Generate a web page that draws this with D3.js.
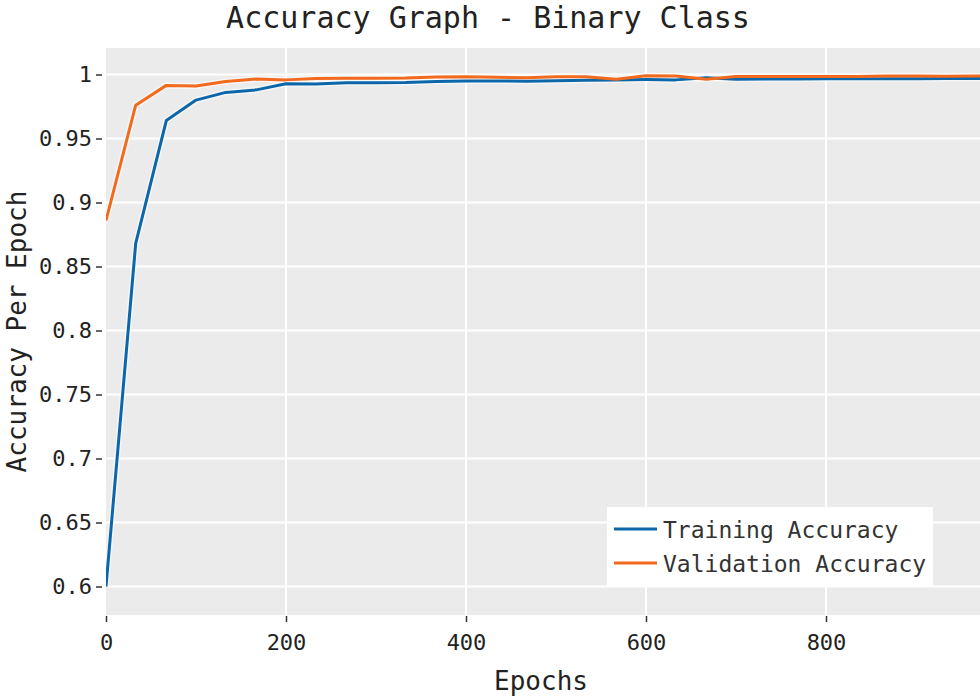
<!DOCTYPE html>
<html lang="en">
    <head>
        <meta charset="utf-8">
        <title>Accuracy Graph - Binary Class</title>
        <script type="text/javascript" src="https://cdn.jsdelivr.net/npm/d3@7/dist/d3.min.js"></script>
        <style type="text/css">
          body { margin: 0; background: #fff; }
          text { font-family: "DejaVu Sans Mono", monospace; fill: #222; }
	      </style>
    </head>
    <body>
        <script type="text/javascript">

          var epochs = [0, 33, 67, 100, 133, 167, 200, 233, 267, 300, 333, 367, 400, 433, 467, 500,
                        533, 567, 600, 633, 667, 700, 733, 767, 800, 833, 867, 900, 933, 967, 1000];

          var trainAcc = [0.600, 0.868, 0.964, 0.980, 0.986, 0.988, 0.9928, 0.9926, 0.9935, 0.9936, 0.9937,
                          0.9945, 0.9950, 0.9950, 0.9948, 0.9952, 0.9955, 0.9958, 0.9960, 0.9958, 0.9975,
                          0.9962, 0.9965, 0.9965, 0.9966, 0.9966, 0.9967, 0.9967, 0.9968, 0.9968, 0.9969];

          var valAcc = [0.886, 0.976, 0.9915, 0.991, 0.9945, 0.9965, 0.9958, 0.9968, 0.9970, 0.9970, 0.9972,
                        0.9980, 0.9982, 0.9978, 0.9975, 0.9982, 0.9983, 0.9962, 0.9990, 0.9988, 0.9962,
                        0.9985, 0.9985, 0.9984, 0.9985, 0.9985, 0.9988, 0.9988, 0.9987, 0.9988, 0.9990];

          var xTicks = [0, 200, 400, 600, 800];
          var yTicks = [0.6, 0.65, 0.7, 0.75, 0.8, 0.85, 0.9, 0.95, 1];
          var seriesNames = ["Training Accuracy", "Validation Accuracy"];
          var colors = ["#0b67a9", "#f26a1e"];

          var w = 980;
          var h = 700;
          var plot = {left: 106, right: 1006, top: 48, bottom: 615};

          var svg = d3.select("body")
                      .append("svg")
                      .attr("width", w)
                      .attr("height", h);

          var xScale = d3.scaleLinear()
                         .domain([0, 1000])
                         .range([plot.left, plot.right]);

          var yScale = d3.scaleLinear()
                         .domain([0.6 - (615 - 586.5) / 1280, 1 + (74.5 - 48) / 1280])
                         .range([plot.bottom, plot.top]);

          // grey panel
          svg.append("rect")
             .attr("x", plot.left)
             .attr("y", plot.top)
             .attr("width", plot.right - plot.left)
             .attr("height", plot.bottom - plot.top)
             .style("fill", "#ebebeb");

          // grid
          svg.append("g")
             .selectAll("line")
             .data(yTicks)
             .enter()
             .append("line")
             .attr("x1", plot.left)
             .attr("x2", plot.right)
             .attr("y1", function(d){ return yScale(d); })
             .attr("y2", function(d){ return yScale(d); })
             .style("stroke", "#fff")
             .style("stroke-width", 2);

          svg.append("g")
             .selectAll("line")
             .data(xTicks.slice(1))
             .enter()
             .append("line")
             .attr("x1", function(d){ return xScale(d); })
             .attr("x2", function(d){ return xScale(d); })
             .attr("y1", plot.top)
             .attr("y2", plot.bottom)
             .style("stroke", "#fff")
             .style("stroke-width", 2);

          // axes
          var xAxis = d3.axisBottom(xScale)
                        .tickValues(xTicks)
                        .tickSize(6)
                        .tickPadding(12)
                        .tickSizeOuter(0);

          var yAxis = d3.axisLeft(yScale)
                        .tickValues(yTicks)
                        .tickFormat(function(d){ return String(d); })
                        .tickSize(6)
                        .tickPadding(4)
                        .tickSizeOuter(0);

          var gx = svg.append("g")
                      .attr("transform", "translate(0," + (plot.bottom + 1) + ")")
                      .call(xAxis);

          var gy = svg.append("g")
                      .attr("transform", "translate(" + (plot.left - 4) + ",0)")
                      .call(yAxis);

          [gx, gy].forEach(function(g){
            g.select(".domain").remove();
            g.selectAll(".tick line").style("stroke", "#333").style("stroke-width", 1.5);
            g.selectAll(".tick text")
             .style("font-family", "'DejaVu Sans Mono', monospace")
             .style("font-size", "22px")
             .style("fill", "#222");
          });

          // lines
          var lineData = [trainAcc, valAcc];
          var line = d3.line()
                       .x(function(d, i){ return xScale(epochs[i]); })
                       .y(function(d){ return yScale(d); });

          svg.append("clipPath")
             .attr("id", "clip")
             .append("rect")
             .attr("x", plot.left)
             .attr("y", plot.top)
             .attr("width", plot.right - plot.left)
             .attr("height", plot.bottom - plot.top);

          var lines = svg.append("g").attr("clip-path", "url(#clip)");

          lineData.forEach(function(vals, k){
            lines.append("path")
                 .datum(vals)
                 .attr("d", line)
                 .style("fill", "none")
                 .style("stroke", "#fff")
                 .style("stroke-opacity", 0.55)
                 .style("stroke-width", 6);
          });

          lineData.forEach(function(vals, k){
            lines.append("path")
                 .datum(vals)
                 .attr("d", line)
                 .style("fill", "none")
                 .style("stroke", colors[k])
                 .style("stroke-width", 3)
                 .style("stroke-linejoin", "round");
          });

          // legend
          var legend = svg.append("g");

          legend.append("rect")
                .attr("x", 607)
                .attr("y", 507)
                .attr("width", 326)
                .attr("height", 80)
                .style("fill", "#fff");

          seriesNames.forEach(function(name, k){
            var ly = 529 + k * 34;
            legend.append("line")
                  .attr("x1", 614)
                  .attr("x2", 657)
                  .attr("y1", ly)
                  .attr("y2", ly)
                  .style("stroke", colors[k])
                  .style("stroke-width", 3);
            legend.append("text")
                  .attr("x", 663)
                  .attr("y", ly + 9)
                  .style("font-size", "23px")
                  .style("fill", "#333")
                  .text(name);
          });

          // titles
          svg.append("text")
             .attr("x", 488)
             .attr("y", 28)
             .attr("text-anchor", "middle")
             .style("font-size", "30px")
             .text("Accuracy Graph - Binary Class");

          svg.append("text")
             .attr("x", 541)
             .attr("y", 690)
             .attr("text-anchor", "middle")
             .style("font-size", "26px")
             .text("Epochs");

          svg.append("text")
             .attr("transform", "translate(26," + ((plot.top + plot.bottom) / 2) + ") rotate(-90)")
             .attr("text-anchor", "middle")
             .style("font-size", "26px")
             .text("Accuracy Per Epoch");

        </script>
    </body>
</html>
